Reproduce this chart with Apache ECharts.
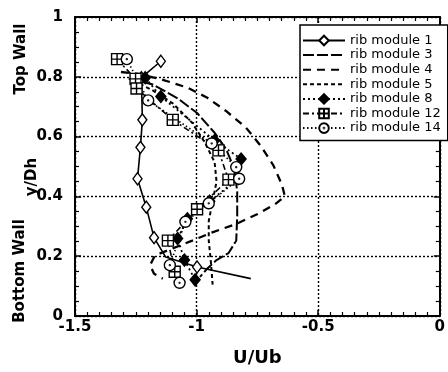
<!DOCTYPE html>
<html>
<head>
<meta charset="utf-8">
<script src="https://cdn.jsdelivr.net/npm/echarts@6/dist/echarts.min.js"></script>
<style>
  html, body { margin: 0; padding: 0; background: #fff; }
  #chart { width: 448px; height: 372px; }
</style>
</head>
<body>
<div id="chart"></div>
<script>
// Velocity profiles U/Ub versus y/Dh for several rib modules
const xMin = -1.5, xMax = 0, xStep = 0.5;
const yMin = 0, yMax = 1, yStep = 0.2;

const ribModule1 = [
  [-1.147, 0.852], [-1.227, 0.797], [-1.223, 0.656], [-1.231, 0.564],
  [-1.243, 0.459], [-1.207, 0.364], [-1.175, 0.262], [-1.127, 0.197],
  [-0.998, 0.164], [-0.777, 0.125]
];
const ribModule3 = [
  [-1.279, 0.793], [-1.179, 0.774], [-1.078, 0.728], [-0.998, 0.679],
  [-0.926, 0.613], [-0.878, 0.557], [-0.845, 0.492], [-0.833, 0.416],
  [-0.833, 0.334], [-0.837, 0.252], [-0.869, 0.210], [-0.918, 0.187],
  [-0.958, 0.157], [-0.986, 0.131]
];
const ribModule4 = [
  [-1.311, 0.816], [-1.239, 0.810], [-1.139, 0.790], [-1.038, 0.764],
  [-0.958, 0.731], [-0.878, 0.685], [-0.797, 0.630], [-0.737, 0.570],
  [-0.685, 0.505], [-0.649, 0.439], [-0.637, 0.400], [-0.677, 0.374],
  [-0.749, 0.341], [-0.837, 0.308], [-0.938, 0.279], [-1.018, 0.252],
  [-1.098, 0.226], [-1.171, 0.203], [-1.191, 0.170], [-1.175, 0.141],
  [-1.139, 0.125]
];
const ribModule5 = [
  [-1.259, 0.787], [-1.179, 0.754], [-1.098, 0.711], [-1.018, 0.646],
  [-0.966, 0.580], [-0.926, 0.515], [-0.918, 0.449], [-0.934, 0.384],
  [-0.950, 0.318], [-0.950, 0.252], [-0.942, 0.187], [-0.934, 0.105]
];
const ribModule8 = [
  [-1.211, 0.797], [-1.147, 0.734], [-0.926, 0.587], [-0.817, 0.525],
  [-0.829, 0.459], [-0.946, 0.384], [-1.038, 0.325], [-1.078, 0.259],
  [-1.050, 0.187], [-1.006, 0.121]
];
const ribModule12 = [
  [-1.327, 0.859], [-1.251, 0.793], [-1.247, 0.761], [-1.098, 0.656],
  [-0.910, 0.554], [-0.869, 0.456], [-0.998, 0.357], [-1.118, 0.252],
  [-1.090, 0.148]
];
const ribModule14 = [
  [-1.287, 0.859], [-1.199, 0.721], [-0.938, 0.577], [-0.837, 0.498],
  [-0.825, 0.459], [-0.950, 0.377], [-1.046, 0.315], [-1.110, 0.170],
  [-1.070, 0.111]
];
// points of module 1 drawn as plain line vertices (no marker)
const module1Bare = [7, 9];

const seriesNames = ['rib module 1', 'rib module 3', 'rib module 4', 'rib module 5',
                     'rib module 8', 'rib module 12', 'rib module 14'];
// series drawn as plain lines (their legend entries get no marker)
const plainLines = ['rib module 3', 'rib module 4', 'rib module 5'];

const FONT = 'DejaVu Sans';
const squareCross = 'path://M0,0L10,0L10,10L0,10ZM5,0L5,10M0,5L10,5';
const circleDot = 'path://M10,0A10,10,0,1,1,10,20A10,10,0,1,1,10,0ZM10,9.2A0.8,0.8,0,1,1,10,10.8A0.8,0.8,0,1,1,10,9.2Z';

function lineSeries(name, data, dash, width, symbol, size, fill) {
  return {
    name: name,
    type: 'line',
    data: data,
    xAxisIndex: 0,
    yAxisIndex: 0,
    showSymbol: symbol !== 'none',
    symbol: symbol,
    symbolSize: size,
    lineStyle: { color: '#000', width: width, type: dash },
    itemStyle: { color: fill, borderColor: '#000', borderWidth: 1.4 },
    emphasis: { disabled: true },
    silent: true,
    z: 3
  };
}

const m1 = ribModule1.map((p, i) =>
  module1Bare.indexOf(i) >= 0 ? { value: p, symbol: 'none' } : p);

const legendData = seriesNames.map(n =>
  plainLines.indexOf(n) >= 0
    ? { name: n, itemStyle: { opacity: 0 } }
    : { name: n });

const chart = echarts.init(document.getElementById('chart'), null, { renderer: 'canvas' });

const axisFont = { fontFamily: FONT, fontSize: 15, fontWeight: 'bold', color: '#000' };
const gridLine = { show: true, lineStyle: { color: '#000', width: 1.4, type: [2, 2] } };

chart.setOption({
  animation: false,
  backgroundColor: '#fff',
  grid: { left: 75, top: 17, right: 0, bottom: 50, containLabel: false },
  xAxis: [
    {
      type: 'value', min: xMin, max: xMax, interval: xStep, position: 'bottom',
      axisLine: { show: true, onZero: false, lineStyle: { color: '#000', width: 2 } },
      axisTick: { show: true, inside: true, length: 6, lineStyle: { color: '#000', width: 1.5 } },
      minorTick: { show: true, splitNumber: 10, length: 4, lineStyle: { color: '#000', width: 1.2 } },
      splitLine: gridLine,
      axisLabel: Object.assign({ margin: 4 }, axisFont),
      name: 'U/Ub', nameLocation: 'middle', nameGap: 33,
      nameTextStyle: { fontFamily: FONT, fontSize: 18, fontWeight: 'bold', color: '#000' }
    },
    {
      type: 'value', min: xMin, max: xMax, interval: xStep, position: 'top',
      axisLine: { show: true, onZero: false, lineStyle: { color: '#000', width: 2 } },
      axisTick: { show: true, inside: true, length: 6, lineStyle: { color: '#000', width: 1.5 } },
      minorTick: { show: true, splitNumber: 10, length: 4, lineStyle: { color: '#000', width: 1.2 } },
      splitLine: { show: false },
      axisLabel: { show: false }
    }
  ],
  yAxis: [
    {
      type: 'value', min: yMin, max: yMax, interval: yStep, position: 'left',
      axisLine: { show: true, onZero: false, lineStyle: { color: '#000', width: 2 } },
      axisTick: { show: true, inside: true, length: 6, lineStyle: { color: '#000', width: 1.5 } },
      minorTick: { show: true, splitNumber: 4, length: 4, lineStyle: { color: '#000', width: 1.2 } },
      splitLine: gridLine,
      axisLabel: Object.assign({ margin: 12 }, axisFont)
    },
    {
      type: 'value', min: yMin, max: yMax, interval: yStep, position: 'right',
      axisLine: { show: true, onZero: false, lineStyle: { color: '#000', width: 2 } },
      axisTick: { show: true, inside: true, length: 6, lineStyle: { color: '#000', width: 1.5 } },
      minorTick: { show: true, splitNumber: 4, length: 4, lineStyle: { color: '#000', width: 1.2 } },
      splitLine: { show: false },
      axisLabel: { show: false }
    }
  ],
  legend: {
    data: legendData,
    orient: 'vertical',
    left: 300, top: 25,
    padding: [9, 7, 6, 2],
    itemWidth: 42, itemHeight: 12, itemGap: 1.6,
    backgroundColor: '#fff',
    borderColor: '#000', borderWidth: 1.5,
    selectedMode: false,
    textStyle: { fontFamily: FONT, fontSize: 13, color: '#000', lineHeight: 12 },
    z: 10
  },
  graphic: [
    { type: 'text', x: 21, y: 59, rotation: Math.PI / 2,
      style: { text: 'Top Wall', fontFamily: FONT, fontSize: 15, fontWeight: 'bold', fill: '#000', align: 'center', verticalAlign: 'middle' } },
    { type: 'text', x: 32, y: 177, rotation: Math.PI / 2,
      style: { text: 'y/Dh', fontFamily: FONT, fontSize: 15, fontWeight: 'bold', fill: '#000', align: 'center', verticalAlign: 'middle' } },
    { type: 'text', x: 20, y: 271, rotation: Math.PI / 2,
      style: { text: 'Bottom Wall', fontFamily: FONT, fontSize: 15, fontWeight: 'bold', fill: '#000', align: 'center', verticalAlign: 'middle' } }
  ],
  series: [
    lineSeries(seriesNames[0], m1, 'solid', 1.6, 'diamond', [9, 12], '#fff'),
    lineSeries(seriesNames[1], ribModule3, [11, 3], 2, 'none', 0, '#000'),
    lineSeries(seriesNames[2], ribModule4, [8, 6], 2.3, 'none', 0, '#000'),
    lineSeries(seriesNames[3], ribModule5, [4, 3], 2, 'none', 0, '#000'),
    lineSeries(seriesNames[4], ribModule8, [2, 3], 1.8, 'diamond', [10, 12], '#000'),
    lineSeries(seriesNames[5], ribModule12, [6, 3, 2, 3], 1.6, squareCross, [11, 11], '#fff'),
    lineSeries(seriesNames[6], ribModule14, [1.5, 2.5], 1.6, circleDot, [11, 11], '#fff')
  ]
});
</script>
</body>
</html>
